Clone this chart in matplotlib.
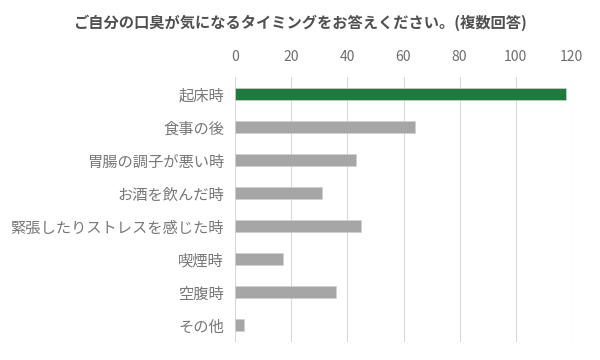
import matplotlib.pyplot as plt

plt.rcParams['font.family'] = ['Noto Sans CJK JP', 'DejaVu Sans']

categories = ['起床時', '食事の後', '胃腸の調子が悪い時', 'お酒を飲んだ時',
              '緊張したりストレスを感じた時', '喫煙時', '空腹時', 'その他']
counts = [118, 64, 43, 31, 45, 17, 36, 3]
colors = ['#1e7b3e'] + ['#a6a6a6'] * 7

fig = plt.figure(figsize=(6, 3.6), dpi=100)
ax = fig.add_axes([0.392, 0.051, 0.561, 0.734])

ax.barh(range(len(categories)), counts, height=0.36, color=colors,
        edgecolor='#d0d0d0', linewidth=0.5, zorder=3)
ax.set_yticks(range(len(categories)))
ax.set_yticklabels(categories)
ax.set_ylim(len(categories) - 0.5, -0.5)
ax.set_xlim(0, 120)
ax.set_xticks(range(0, 121, 20))
ax.xaxis.tick_top()
ax.grid(axis='x', color='#d9d9d9', linewidth=0.8, zorder=0)
for s in ax.spines.values():
    s.set_visible(False)
ax.tick_params(axis='x', length=0, pad=10, labelsize=10, labelcolor='#6e6e6e')
ax.tick_params(axis='y', length=0, pad=8, labelsize=11, labelcolor='#787878')

fig.text(0.5, 0.937, 'ご自分の口臭が気になるタイミングをお答えください。(複数回答)',
         ha='center', va='center', fontsize=11, fontweight='bold', color='#505050')

fig.savefig('out.png', dpi=100)
